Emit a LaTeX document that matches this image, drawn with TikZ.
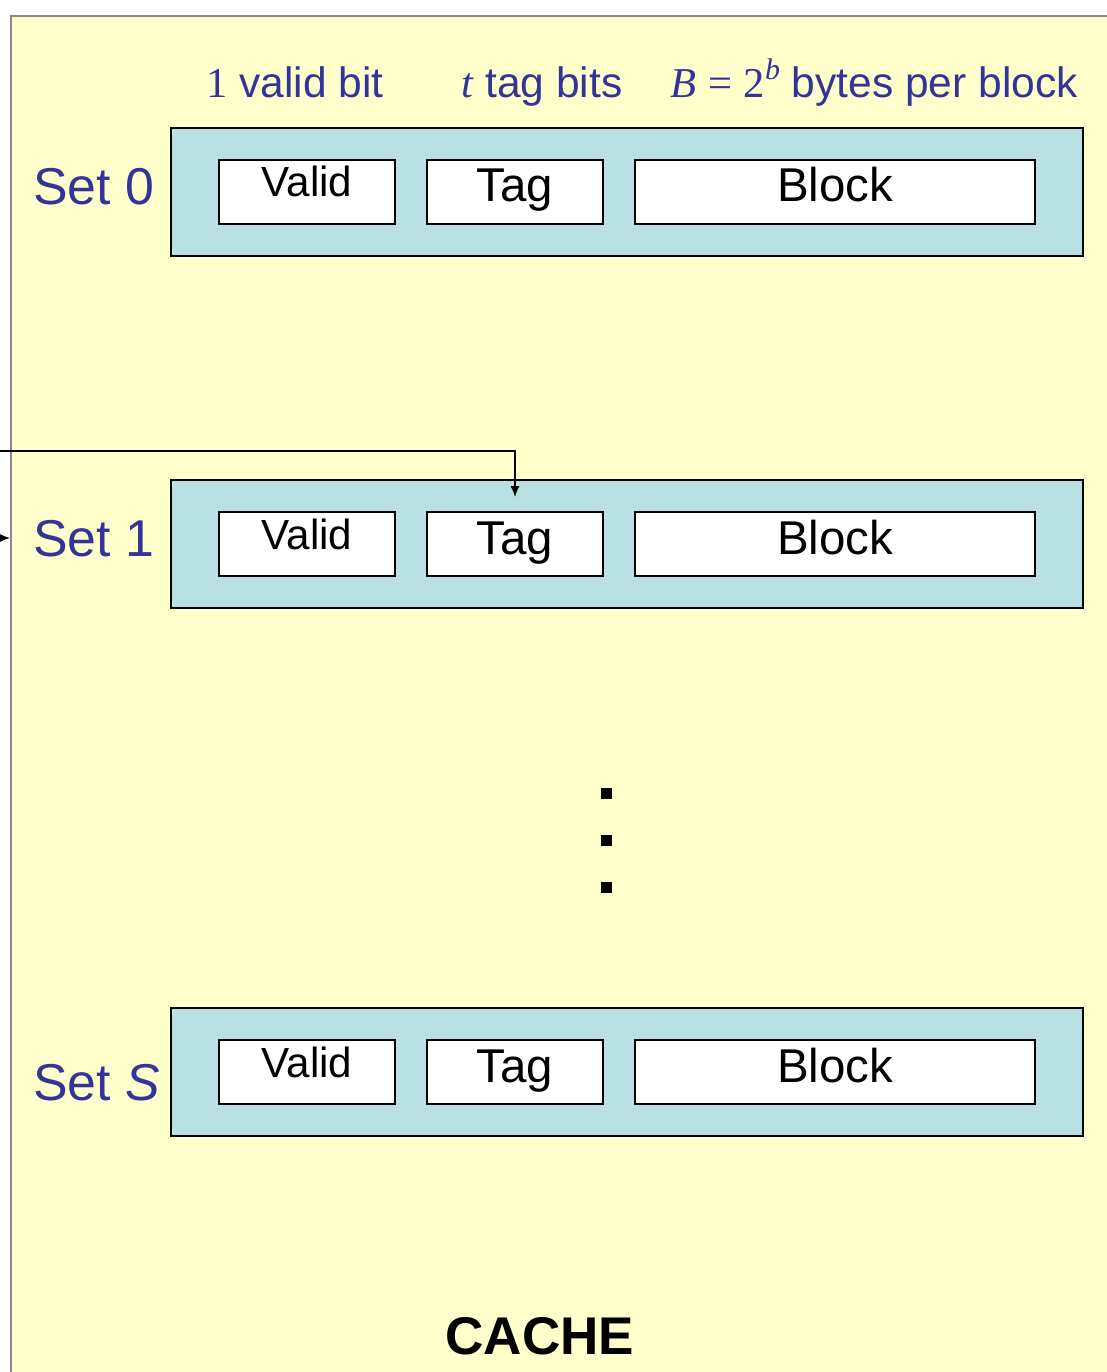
\documentclass[tikz,border=0pt]{standalone}
\usepackage{fontspec}
\setmainfont{Liberation Sans}
\newfontfamily\timesfont{Liberation Serif}
\usetikzlibrary{arrows.meta, positioning, calc}
\definecolor{cachebg}{RGB}{255,255,204}
\definecolor{setfill}{RGB}{185,224,227}
\definecolor{setblue}{RGB}{51,51,153}
\definecolor{framegray}{RGB}{136,136,136}

\begin{document}
\begin{tikzpicture}[x=0.02cm, y=-0.02cm,
  setbox/.style={draw, line width=1.1pt, fill=setfill, minimum width=18.24cm, minimum height=2.56cm, inner sep=0pt},
  field/.style={draw, line width=1.1pt, fill=white, minimum height=1.28cm, inner sep=0pt, text height=0.6cm, text depth=0.2cm, font=\fontsize{27}{29}\selectfont},
  validfield/.style={field, text height=0.5cm, text depth=0.3cm, font=\fontsize{24}{26}\selectfont},
  setlabel/.style={anchor=base west, inner sep=0pt, text=setblue, font=\fontsize{29.5}{31}\selectfont},
  header/.style={anchor=base, inner sep=0pt, text=setblue, font=\fontsize{24.2}{26}\selectfont},
  wire/.style={line width=0.8pt, -{Latex[length=0.22cm, width=0.18cm]}}
]
  \useasboundingbox (0,0) rectangle (1106,1372);
  \fill[white] (0,0) rectangle (1106,1372);

  % Cache frame
  \draw[framegray, line width=1.1pt, fill=cachebg] (11,16) rectangle (1130,1400);

  % Field widths
  \node[header] (hvalid) at (295,97) {{\timesfont 1} valid bit};
  \node[header] (htag) at (542,97) {{\timesfont\itshape t} tag bits};
  \node[header] (hblock) at (874,97) {{\timesfont\itshape B} {\timesfont =} {\timesfont 2}{\timesfont\itshape\raisebox{0.9ex}{\fontsize{17}{18}\selectfont b}} bytes per block};

  % Sets
  \foreach \n/\t in {0/128, 1/480, S/1008} {
    \node[setbox] (set\n) at (627,{\t+64}) {};
    \node[validfield, minimum width=3.52cm] (valid\n) at (307,{\t+64}) {Valid};
    \node[field, minimum width=3.52cm] (tag\n) at (515,{\t+64}) {Tag};
    \node[field, minimum width=8cm] (block\n) at (835,{\t+64}) {Block};
  }

  \node[setlabel] (lab0) at (33,204) {Set 0};
  \node[setlabel] (lab1) at (33,556) {Set 1};
  \node[setlabel] (labS) at (33,1100) {Set \textit{S}};

  % Dots
  \foreach \d in {788, 835, 882}
    \fill (601,\d) rectangle +(11,11);

  % Set selection
  \coordinate (bus) at (0,451);
  \draw[wire] (bus) -| ([yshift=0.28cm]tag1.north);
  \coordinate (sel) at (-2,538);
  \coordinate (selend) at (10,538);
  \draw[wire] (sel) -- (selend);

  \node[anchor=base, inner sep=0pt, font=\fontsize{30.2}{32}\selectfont\bfseries] (title) at (540,1354) {CACHE};
\end{tikzpicture}
\end{document}
